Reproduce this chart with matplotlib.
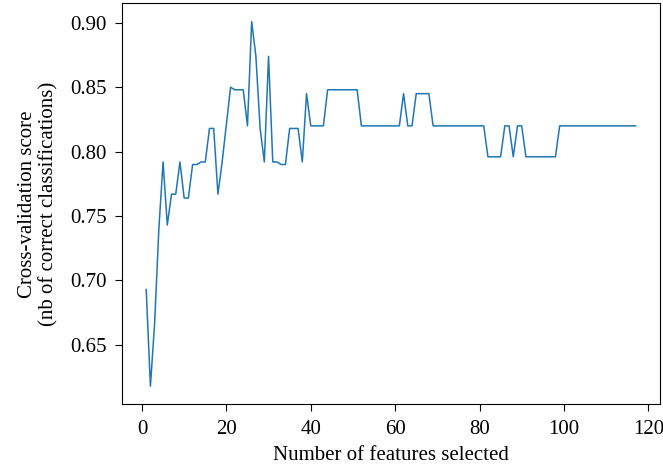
import matplotlib
matplotlib.use('Agg')
import matplotlib.pyplot as plt

# number of selected features
n_features = list(range(1, 118))

# cross-validation score per number of features
scores = [
    0.693, 0.618, 0.667, 0.740, 0.792, 0.743, 0.767, 0.767, 0.792, 0.764,   # 1-10
    0.764, 0.790, 0.790, 0.792, 0.792, 0.818, 0.818, 0.767, 0.792, 0.821,   # 11-20
    0.850, 0.848, 0.848, 0.848, 0.820, 0.901, 0.874, 0.818, 0.792, 0.874,   # 21-30
    0.792, 0.792, 0.790, 0.790, 0.818, 0.818, 0.818, 0.792, 0.845, 0.820,   # 31-40
    0.820, 0.820, 0.820, 0.848, 0.848, 0.848, 0.848, 0.848, 0.848, 0.848,   # 41-50
    0.848, 0.820, 0.820, 0.820, 0.820, 0.820, 0.820, 0.820, 0.820, 0.820,   # 51-60
    0.820, 0.845, 0.820, 0.820, 0.845, 0.845, 0.845, 0.845, 0.820, 0.820,   # 61-70
    0.820, 0.820, 0.820, 0.820, 0.820, 0.820, 0.820, 0.820, 0.820, 0.820,   # 71-80
    0.820, 0.796, 0.796, 0.796, 0.796, 0.820, 0.820, 0.796, 0.820, 0.820,   # 81-90
    0.796, 0.796, 0.796, 0.796, 0.796, 0.796, 0.796, 0.796, 0.820, 0.820,   # 91-100
    0.820, 0.820, 0.820, 0.820, 0.820, 0.820, 0.820, 0.820, 0.820, 0.820,   # 101-110
    0.820, 0.820, 0.820, 0.820, 0.820, 0.820, 0.820,                        # 111-117
]

plt.rcParams['font.family'] = ['Liberation Serif', 'DejaVu Serif']

fig = plt.figure(figsize=(6.63, 4.68), dpi=100)
ax = fig.add_axes([0.1836, 0.136, 0.812, 0.857])

ax.plot(n_features, scores, color='#1f77b4', linewidth=1.1)

ax.set_xlabel('Number of features selected', fontsize=15, labelpad=5)
ax.set_ylabel('Cross-validation score\n(nb of correct classifications)',
              fontsize=15, labelpad=8, linespacing=1.15)
ax.set_yticks([0.65, 0.70, 0.75, 0.80, 0.85, 0.90])
ax.set_xticks([0, 20, 40, 60, 80, 100, 120])
ax.tick_params(labelsize=15, length=5, pad=6)

fig.savefig('out.png', dpi=100)
